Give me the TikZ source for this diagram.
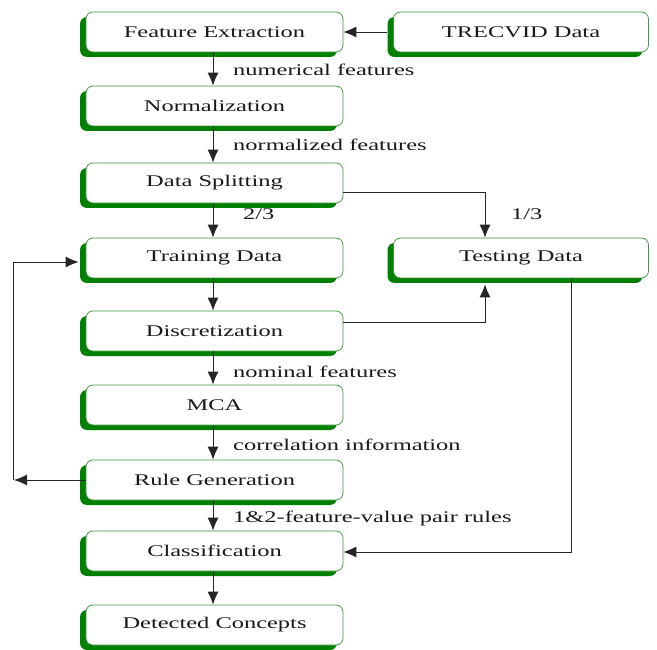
\documentclass[tikz,border=0pt]{standalone}
\usepackage{fontspec}
\setmainfont{Liberation Serif}[FakeStretch=1.5]
\usetikzlibrary{shadows,arrows.meta}
\definecolor{boxgreen}{RGB}{0,128,0}
\definecolor{edgegreen}{RGB}{60,150,60}
\definecolor{txt}{RGB}{25,25,25}
\begin{document}
\begin{tikzpicture}[x=1pt,y=-1pt,
  procbox/.style={draw=edgegreen, line width=0.7pt, fill=white, rounded corners=7pt,
    minimum height=40pt, inner sep=0pt, font=\fontsize{16.3}{18}\selectfont, text=txt,
    drop shadow={shadow xshift=-6pt, shadow yshift=-5pt, fill=boxgreen, opacity=1}},
  lbox/.style={procbox, minimum width=257pt},
  rbox/.style={procbox, minimum width=255pt},
  arr/.style={draw=black!85, line width=0.9pt, -{Latex[length=13pt,width=11pt]}},
  ln/.style={draw=black!85, line width=0.9pt},
  lab/.style={anchor=west, inner sep=0pt, font=\fontsize{16.3}{18}\selectfont, text=txt}]
\useasboundingbox (0,0) rectangle (657,650);
\node[lbox] (fe) at (214.5,32) {Feature Extraction};
\node[rbox] (trec) at (521,32) {TRECVID Data};
\node[lbox] (norm) at (214.5,106) {Normalization};
\node[lbox] (split) at (214.5,183) {Data Splitting};
\node[lbox] (train) at (214.5,258) {Training Data};
\node[rbox] (test) at (521,258) {Testing Data};
\node[lbox] (disc) at (214.5,331) {Discretization};
\node[lbox] (mca) at (214.5,405) {MCA};
\node[lbox] (rule) at (214.5,480) {Rule Generation};
\node[lbox] (cls) at (214.5,551) {Classification};
\node[lbox] (det) at (214.5,625) {Detected Concepts};

\coordinate (vx) at (213,0);
\draw[arr, shorten <=6pt] (trec.west) -- (fe.east);
\draw[arr] (fe.south -| vx) -- (norm.north -| vx);
\draw[arr] (norm.south -| vx) -- (split.north -| vx);
\draw[arr] (split.south -| vx) -- (train.north -| vx);
\draw[arr] (train.south -| vx) -- (disc.north -| vx);
\draw[arr] (disc.south -| vx) -- (mca.north -| vx);
\draw[arr] (mca.south -| vx) -- (rule.north -| vx);
\draw[arr] (rule.south -| vx) -- (cls.north -| vx);
\draw[arr] (cls.south -| vx) -- (det.north -| vx);

\coordinate (sx) at (485,192);
\draw[arr] (split.east |- sx) -- (sx) -- (test.north -| sx);
\coordinate (dx) at (485,322);
\draw[arr] (disc.east |- dx) -- (dx) -- ([yshift=-6pt]test.south -| dx);
\coordinate (tx) at (571,552);
\draw[arr] (test.south -| tx) -- (tx) -- (cls.east |- tx);

\coordinate (rl) at (13,480);
\coordinate (rt) at (13,262);
\draw[arr] (rule.west) -- ([xshift=1pt]rl);
\draw[ln] (rl) -- (rt);
\draw[arr, shorten >=7pt] (rt) -- (train.west |- rt);

\node[lab] (l1) at (233,70) {numerical features};
\node[lab] (l2) at (233,145) {normalized features};
\node[lab] (l3) at (243,214) {2/3};
\node[lab] (l4) at (511,214) {1/3};
\node[lab] (l5) at (233,372) {nominal features};
\node[lab] (l6) at (233,445) {correlation information};
\node[lab] (l7) at (233,518) {1\&2-feature-value pair rules};
\end{tikzpicture}
\end{document}
